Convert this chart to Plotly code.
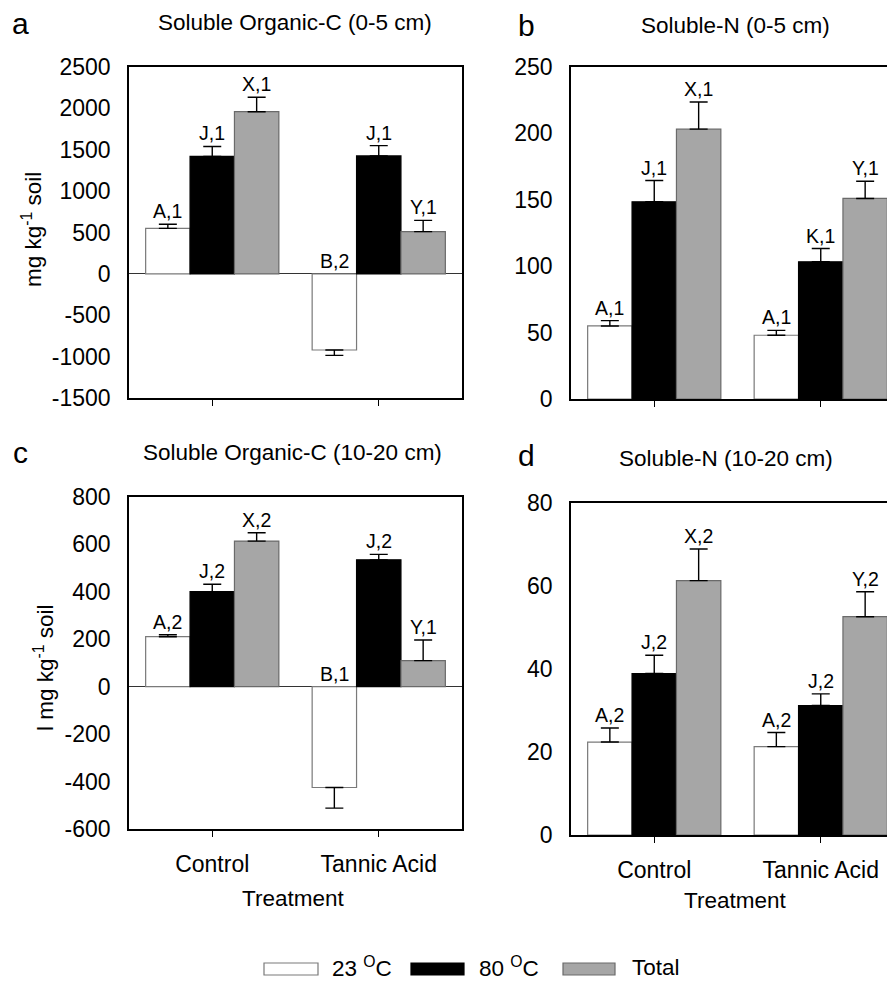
import plotly.graph_objects as go

# ---------------- data ----------------
treatments = ["Control", "Tannic Acid"]
series_names = ["23 °C", "80 °C", "Total"]

# a: Soluble Organic-C (0-5 cm)
a_23 = [550, -920]
a_23_err = [50, 65]
a_80 = [1420, 1425]
a_80_err = [120, 125]
a_tot = [1960, 511]
a_tot_err = [175, 135]
a_lab_23 = ["A,1", "B,2"]
a_lab_80 = ["J,1", "J,1"]
a_lab_tot = ["X,1", "Y,1"]
a_ticks = [-1500, -1000, -500, 0, 500, 1000, 1500, 2000, 2500]

# b: Soluble-N (0-5 cm)
b_23 = [55, 48]
b_23_err = [4, 3.7]
b_80 = [148.5, 103.3]
b_80_err = [16, 10]
b_tot = [203.2, 151]
b_tot_err = [20.5, 13]
b_lab_23 = ["A,1", "A,1"]
b_lab_80 = ["J,1", "K,1"]
b_lab_tot = ["X,1", "Y,1"]
b_ticks = [0, 50, 100, 150, 200, 250]

# c: Soluble Organic-C (10-20 cm)
c_23 = [211, -425]
c_23_err = [8, 87]
c_80 = [401, 535]
c_80_err = [31, 23]
c_tot = [614, 110]
c_tot_err = [35, 87]
c_lab_23 = ["A,2", "B,1"]
c_lab_80 = ["J,2", "J,2"]
c_lab_tot = ["X,2", "Y,1"]
c_ticks = [-600, -400, -200, 0, 200, 400, 600, 800]

# d: Soluble-N (10-20 cm)
d_23 = [22.4, 21.3]
d_23_err = [3.4, 3.4]
d_80 = [38.9, 31.2]
d_80_err = [4.4, 2.8]
d_tot = [61.3, 52.6]
d_tot_err = [7.6, 6.0]
d_lab_23 = ["A,2", "A,2"]
d_lab_80 = ["J,2", "J,2"]
d_lab_tot = ["X,2", "Y,2"]
d_ticks = [0, 20, 40, 60, 80]

# ---------------- styling ----------------
# The page body has an 8px margin, so the figure is shifted by OFF px;
# all layout positions below are given in window pixels.
OFF = 8
WIN_W, WIN_H = 895, 983
W, H = WIN_W - OFF, WIN_H - OFF
FONT = "Liberation Sans, Arial, sans-serif"
fill_colors = ["#ffffff", "#000000", "#a6a6a6"]
line_colors = ["#7a7a7a", "#000000", "#6a6a6a"]


def px(x):
    return (x - OFF) / W


def py(y):
    return 1 - (y - OFF) / H


fig = go.Figure()

panels = [
    dict(key="", vals=[a_23, a_80, a_tot], errs=[a_23_err, a_80_err, a_tot_err],
         labs=[a_lab_23, a_lab_80, a_lab_tot], ticks=a_ticks,
         xdom=(129, 462), ydom=(67, 398), xmax=1.5, zero=True, frame=True, xlabels=False),
    dict(key="2", vals=[b_23, b_80, b_tot], errs=[b_23_err, b_80_err, b_tot_err],
         labs=[b_lab_23, b_lab_80, b_lab_tot], ticks=b_ticks,
         xdom=(571, 895), ydom=(67, 399), xmax=-0.5 + 2 * 324 / 333, zero=False, frame=False, xlabels=False),
    dict(key="3", vals=[c_23, c_80, c_tot], errs=[c_23_err, c_80_err, c_tot_err],
         labs=[c_lab_23, c_lab_80, c_lab_tot], ticks=c_ticks,
         xdom=(129, 462), ydom=(497, 829), xmax=1.5, zero=True, frame=True, xlabels=True),
    dict(key="4", vals=[d_23, d_80, d_tot], errs=[d_23_err, d_80_err, d_tot_err],
         labs=[d_lab_23, d_lab_80, d_lab_tot], ticks=d_ticks,
         xdom=(571, 895), ydom=(503, 835), xmax=-0.5 + 2 * 324 / 333, zero=False, frame=False, xlabels=True),
]

annotations = []
layout_axes = {}
group_w = 0.8
bar_w = group_w / 3

for p in panels:
    k = p["key"]
    xa = "x" + k
    ya = "y" + k
    for j in range(3):
        vals = p["vals"][j]
        errs = p["errs"][j]
        plus = [e if v >= 0 else 0 for v, e in zip(vals, errs)]
        minus = [0 if v >= 0 else e for v, e in zip(vals, errs)]
        fig.add_trace(go.Bar(
            x=treatments, y=vals, name=series_names[j], showlegend=False,
            marker=dict(color=fill_colors[j], line=dict(color=line_colors[j], width=1.2)),
            error_y=dict(type="data", symmetric=False, array=plus, arrayminus=minus,
                         color="#000000", thickness=1.4, width=9),
            xaxis=xa, yaxis=ya,
        ))
        for i, (v, e, lab) in enumerate(zip(vals, errs, p["labs"][j])):
            ytop = v + e if v >= 0 else 0
            annotations.append(dict(
                x=i + (j - 1) * bar_w, y=ytop, xref=xa, yref=ya, text=lab,
                showarrow=False, xanchor="center", yanchor="bottom", yshift=0,
                font=dict(family=FONT, size=19.5, color="#000"),
            ))
    xname = "xaxis" + k
    yname = "yaxis" + k
    layout_axes[xname] = dict(
        domain=[px(p["xdom"][0]), min(1.0, px(p["xdom"][1]))],
        anchor=ya, range=[-0.5, p["xmax"]], type="category", automargin=False,
        showline=True, linecolor="#000", linewidth=1.6, mirror=True,
        ticks="outside", ticklen=6, tickcolor="#000", tickwidth=1,
        showticklabels=p["xlabels"], showgrid=False, zeroline=False,
        tickfont=dict(family=FONT, size=23, color="#000"), ticklabelstandoff=8,
    )
    ticks = p["ticks"]
    layout_axes[yname] = dict(
        domain=[py(p["ydom"][1]), py(p["ydom"][0])],
        anchor=xa, range=[ticks[0], ticks[-1]], automargin=False,
        tickvals=ticks, ticktext=[str(t) for t in ticks],
        showline=True, linecolor="#000", linewidth=1.6, mirror=p["frame"],
        ticks="", showgrid=False,
        zeroline=p["zero"], zerolinecolor="#333", zerolinewidth=1.2,
        tickfont=dict(family=FONT, size=23, color="#000"), ticklabelstandoff=12,
    )


def text_ann(x, y, text, size, angle=0, xanchor="center"):
    annotations.append(dict(
        x=px(x), y=py(y), xref="paper", yref="paper", text=text, showarrow=False,
        xanchor=xanchor, yanchor="middle", textangle=angle,
        font=dict(family=FONT, size=size, color="#000"),
    ))


# panel titles and letters
text_ann(295, 23, "Soluble Organic-C (0-5 cm)", 22.5)
text_ann(735, 25, "Soluble-N (0-5 cm)", 22.5)
text_ann(292, 453, "Soluble Organic-C (10-20 cm)", 22.5)
text_ann(726, 458, "Soluble-N (10-20 cm)", 22.5)
text_ann(20, 24, "a", 30)
text_ann(526, 25, "b", 30)
text_ann(20, 452, "c", 30)
text_ann(526, 455, "d", 30)

# y-axis titles
text_ann(32, 230, "mg kg<sup>-1</sup> soil", 22.5, angle=-90)
text_ann(44, 668, "l mg kg<sup>-1</sup> soil", 22.5, angle=-90)

# x-axis titles
text_ann(293, 898, "Treatment", 22.5)
text_ann(735, 900, "Treatment", 22.5)

# custom legend
shapes = []
legend_items = [
    (264, 318, 330, "23 <sup>O</sup>C", 0),
    (411, 464, 477, "80 <sup>O</sup>C", 1),
    (563, 615, 630, "Total", 2),
]
for x0, x1, xt, lab, j in legend_items:
    shapes.append(dict(type="rect", xref="paper", yref="paper",
                       x0=px(x0), x1=px(x1), y0=py(975), y1=py(963),
                       fillcolor=fill_colors[j], line=dict(color=line_colors[j], width=1.2)))
    text_ann(xt, 967, lab, 22.5, xanchor="left")

fig.update_layout(
    width=W, height=H,
    margin=dict(l=0, r=0, t=0, b=0, autoexpand=False),
    paper_bgcolor="#ffffff", plot_bgcolor="#ffffff",
    barmode="group", bargap=0.2, bargroupgap=0,
    annotations=annotations, shapes=shapes,
    font=dict(family=FONT, color="#000"),
    **layout_axes,
)

fig.write_html("out.html")
